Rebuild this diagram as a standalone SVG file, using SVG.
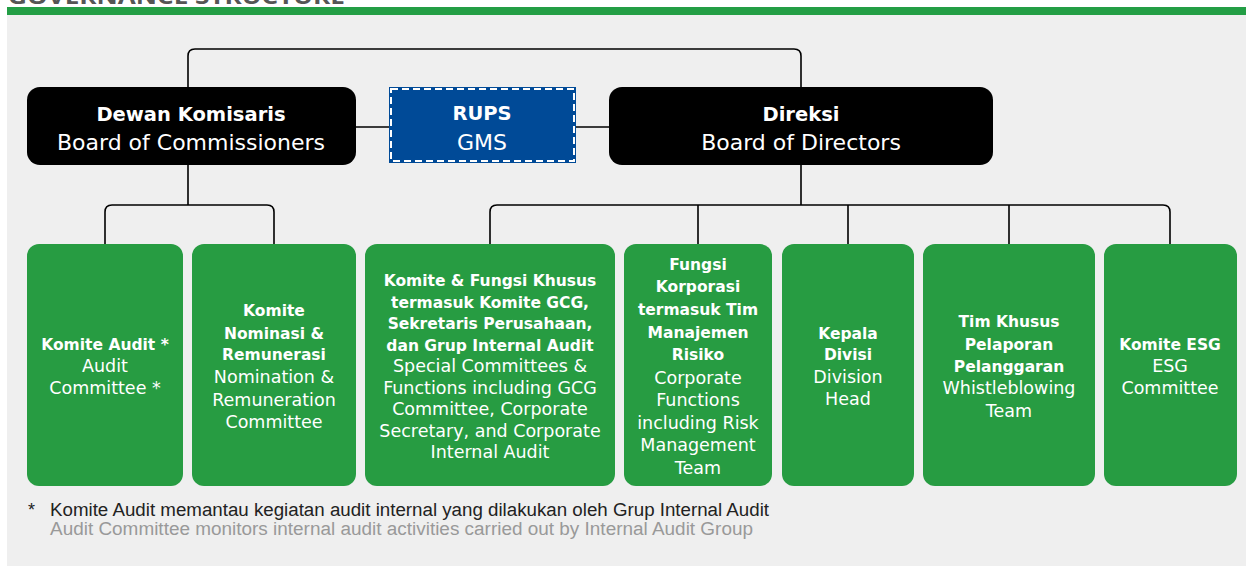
<svg xmlns="http://www.w3.org/2000/svg" width="1246" height="566" viewBox="0 0 1246 566">
<style>
.t{font-family:"DejaVu Sans","Open Sans",sans-serif;fill:#fff;text-anchor:middle}
.b{font-weight:700;font-size:15.5px}
.r{font-weight:400;font-size:17.5px}
.hb{font-weight:700;font-size:19.5px}
.hr{font-weight:400;font-size:22px}
.g{fill:#279c42}
.k{fill:#000}
.c{fill:none;stroke:#000;stroke-width:1.6}
.fn{font-family:"Liberation Sans",Arial,sans-serif;font-size:18px}
</style>
<rect x="0" y="0" width="1246" height="566" fill="#fff"/>
<text x="8" y="4" font-family="Open Sans,sans-serif" font-weight="700" font-size="22" fill="#555" textLength="337" lengthAdjust="spacingAndGlyphs">GOVERNANCE STRUCTURE</text>
<rect x="7" y="7" width="1239" height="8" fill="#239e45"/>
<rect x="7" y="15" width="1239" height="551" fill="#efefef"/>

<g id="connectors">
<path class="c" d="M188 87 V56 Q188 49 195 49 H794 Q801 49 801 56 V87"/>
<path class="c" d="M356 127 H389 M576 127 H609"/>
<path class="c" d="M188 165 V205 M105 244 V212 Q105 205 112 205 H267 Q274 205 274 212 V244"/>
<path class="c" d="M801 165 V205 M490 244 V212 Q490 205 497 205 H1163 Q1170 205 1170 212 V244 M698 205 V244 M848 205 V244 M1009 205 V244"/>
</g>

<g id="dewan-komisaris">
<rect class="k" x="27" y="87" width="329" height="78" rx="13"/>
<text class="t hb" x="191" y="121">Dewan Komisaris</text>
<text class="t hr" x="191" y="150">Board of Commissioners</text>
</g>
<g id="rups">
<rect x="389" y="87" width="187" height="76" fill="#004a97"/>
<rect x="391" y="89" width="183" height="72" fill="none" stroke="#fff" stroke-width="2" stroke-dasharray="7 4"/>
<text class="t hb" x="482" y="120">RUPS</text>
<text class="t hr" x="482" y="150">GMS</text>
</g>
<g id="direksi">
<rect class="k" x="609" y="87" width="384" height="78" rx="13"/>
<text class="t hb" x="801" y="121">Direksi</text>
<text class="t hr" x="801" y="150">Board of Directors</text>
</g>

<g id="komite-audit">
<rect class="g" x="27" y="244" width="156" height="242" rx="12"/>
<text class="t b" x="105" y="350">Komite Audit *</text>
<text class="t r" x="105" y="372">Audit</text>
<text class="t r" x="105" y="394">Committee *</text>
</g>
<g id="komite-nominasi">
<rect class="g" x="192" y="244" width="164" height="242" rx="12"/>
<text class="t b" x="274" y="316">Komite</text>
<text class="t b" x="274" y="339">Nominasi &amp;</text>
<text class="t b" x="274" y="360">Remunerasi</text>
<text class="t r" x="274" y="383">Nomination &amp;</text>
<text class="t r" x="274" y="406">Remuneration</text>
<text class="t r" x="274" y="428">Committee</text>
</g>
<g id="komite-fungsi-khusus">
<rect class="g" x="365" y="244" width="250" height="242" rx="12"/>
<text class="t b" x="490" y="286">Komite &amp; Fungsi Khusus</text>
<text class="t b" x="490" y="308">termasuk Komite GCG,</text>
<text class="t b" x="490" y="329">Sekretaris Perusahaan,</text>
<text class="t b" x="490" y="351">dan Grup Internal Audit</text>
<text class="t r" x="490" y="372">Special Committees &amp;</text>
<text class="t r" x="490" y="394">Functions including GCG</text>
<text class="t r" x="490" y="415">Committee, Corporate</text>
<text class="t r" x="490" y="437">Secretary, and Corporate</text>
<text class="t r" x="490" y="458">Internal Audit</text>
</g>
<g id="fungsi-korporasi">
<rect class="g" x="624" y="244" width="148" height="242" rx="12"/>
<text class="t b" x="698" y="270">Fungsi</text>
<text class="t b" x="698" y="292">Korporasi</text>
<text class="t b" x="698" y="315">termasuk Tim</text>
<text class="t b" x="698" y="338">Manajemen</text>
<text class="t b" x="698" y="360">Risiko</text>
<text class="t r" x="698" y="384">Corporate</text>
<text class="t r" x="698" y="406">Functions</text>
<text class="t r" x="698" y="429">including Risk</text>
<text class="t r" x="698" y="451">Management</text>
<text class="t r" x="698" y="474">Team</text>
</g>
<g id="kepala-divisi">
<rect class="g" x="782" y="244" width="132" height="242" rx="12"/>
<text class="t b" x="848" y="339">Kepala</text>
<text class="t b" x="848" y="360">Divisi</text>
<text class="t r" x="848" y="383">Division</text>
<text class="t r" x="848" y="405">Head</text>
</g>
<g id="tim-khusus">
<rect class="g" x="923" y="244" width="172" height="242" rx="12"/>
<text class="t b" x="1009" y="327">Tim Khusus</text>
<text class="t b" x="1009" y="350">Pelaporan</text>
<text class="t b" x="1009" y="372">Pelanggaran</text>
<text class="t r" x="1009" y="394">Whistleblowing</text>
<text class="t r" x="1009" y="417">Team</text>
</g>
<g id="komite-esg">
<rect class="g" x="1104" y="244" width="133" height="242" rx="12"/>
<text class="t b" x="1170" y="350">Komite ESG</text>
<text class="t r" x="1170" y="372">ESG</text>
<text class="t r" x="1170" y="394">Committee</text>
</g>

<g id="footnote">
<text class="fn" x="28" y="516" fill="#222" font-size="15">*</text>
<text class="fn" x="50" y="516" fill="#222" textLength="719" lengthAdjust="spacingAndGlyphs">Komite Audit memantau kegiatan audit internal yang dilakukan oleh Grup Internal Audit</text>
<text class="fn" x="50" y="535" fill="#999" textLength="703" lengthAdjust="spacingAndGlyphs">Audit Committee monitors internal audit activities carried out by Internal Audit Group</text>
</g>
</svg>
